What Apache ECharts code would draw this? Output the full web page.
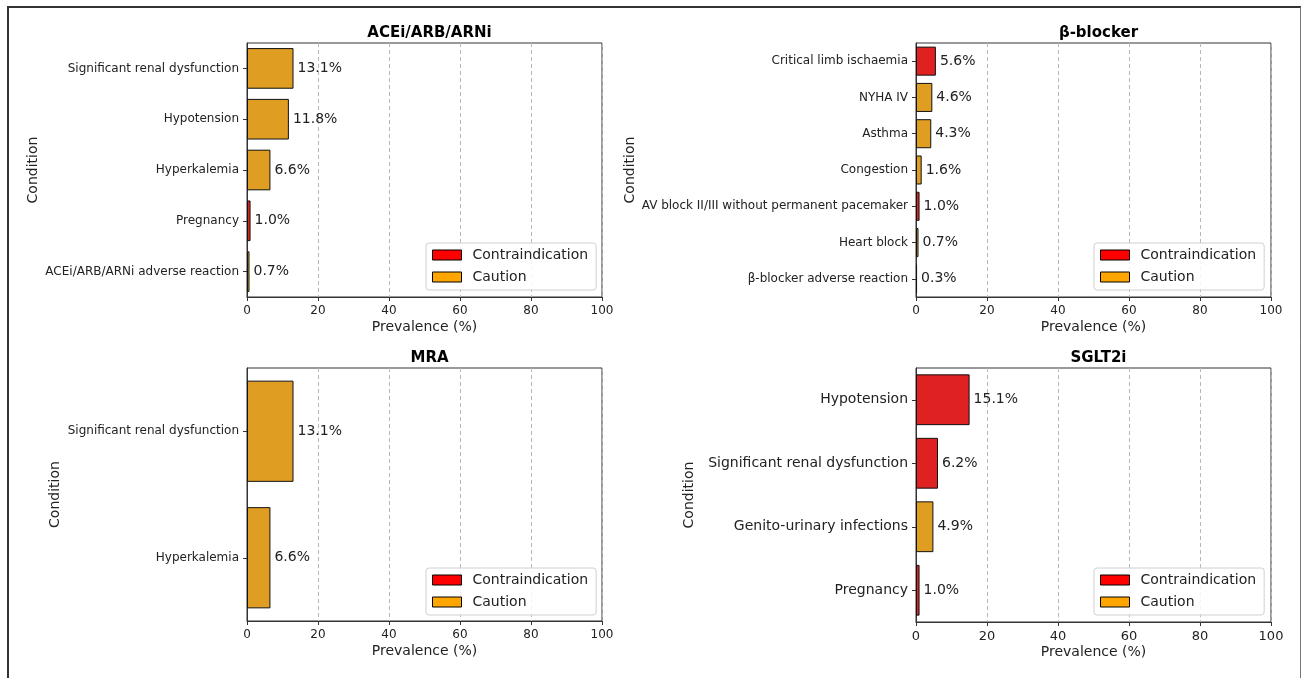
<!DOCTYPE html>
<html>
<head>
<meta charset="utf-8">
<script src="https://cdn.jsdelivr.net/npm/echarts@6/dist/echarts.min.js"></script>
<style>html,body{margin:0;padding:0;background:#fff}#c{width:1301px;height:678px}</style>
</head>
<body>
<div id="c"></div>
<script>
// ---- Data ----
const aceiTitle = 'ACEi/ARB/ARNi';
const aceiCategories = ['Significant renal dysfunction', 'Hypotension', 'Hyperkalemia', 'Pregnancy', 'ACEi/ARB/ARNi adverse reaction'];
const aceiValues = [13.1, 11.8, 6.6, 1.0, 0.7];
const aceiTypes = ['Caution', 'Caution', 'Caution', 'Contraindication', 'Caution'];

const bbTitle = 'β-blocker';
const bbCategories = ['Critical limb ischaemia', 'NYHA IV', 'Asthma', 'Congestion', 'AV block II/III without permanent pacemaker', 'Heart block', 'β-blocker adverse reaction'];
const bbValues = [5.6, 4.6, 4.3, 1.6, 1.0, 0.7, 0.3];
const bbTypes = ['Contraindication', 'Caution', 'Caution', 'Caution', 'Contraindication', 'Caution', 'Caution'];

const mraTitle = 'MRA';
const mraCategories = ['Significant renal dysfunction', 'Hyperkalemia'];
const mraValues = [13.1, 6.6];
const mraTypes = ['Caution', 'Caution'];

const sgltTitle = 'SGLT2i';
const sgltCategories = ['Hypotension', 'Significant renal dysfunction', 'Genito-urinary infections', 'Pregnancy'];
const sgltValues = [15.1, 6.2, 4.9, 1.0];
const sgltTypes = ['Contraindication', 'Contraindication', 'Caution', 'Contraindication'];

const xTicks = [0, 20, 40, 60, 80, 100];
const typeNames = ['Contraindication', 'Caution'];

// ---- Styling / layout ----
const FONT = 'DejaVu Sans';
const barColors = { 'Contraindication': '#DF2121', 'Caution': '#DF9D22' };
const legendColors = { 'Contraindication': '#FF0000', 'Caution': '#FFA500' };

const panels = [
  { title: aceiTitle, cats: aceiCategories, vals: aceiValues, types: aceiTypes,
    grid: { left: 247, top: 43, width: 355, height: 254 }, titleTop: 21, yNameGap: 207,
    catFont: 12, tickFont: 12, legend: { left: 426, top: 243 } },
  { title: bbTitle, cats: bbCategories, vals: bbValues, types: bbTypes,
    grid: { left: 916, top: 43, width: 355, height: 254 }, titleTop: 21, yNameGap: 277,
    catFont: 12, tickFont: 12, legend: { left: 1094, top: 243 } },
  { title: mraTitle, cats: mraCategories, vals: mraValues, types: mraTypes,
    grid: { left: 247, top: 368, width: 355, height: 253 }, titleTop: 346, yNameGap: 185,
    catFont: 12, tickFont: 12, legend: { left: 426, top: 568 } },
  { title: sgltTitle, cats: sgltCategories, vals: sgltValues, types: sgltTypes,
    grid: { left: 916, top: 368, width: 355, height: 254 }, titleTop: 346, yNameGap: 220,
    catFont: 14, tickFont: 13, legend: { left: 1094, top: 568 } }
];

const option = {
  animation: false,
  backgroundColor: '#fff',
  textStyle: { fontFamily: FONT },
  title: [], grid: [], xAxis: [], yAxis: [], series: [], legend: [],
  graphic: [
    { type: 'line', shape: { x1: 7, y1: 7, x2: 1301, y2: 7 }, style: { stroke: '#333', lineWidth: 2 } },
    { type: 'line', shape: { x1: 8, y1: 6, x2: 8, y2: 678 }, style: { stroke: '#333', lineWidth: 2 } },
    { type: 'line', shape: { x1: 1300.5, y1: 7, x2: 1300.5, y2: 678 }, style: { stroke: '#777', lineWidth: 1 } }
  ]
};

panels.forEach((p, i) => {
  const cx = p.grid.left + p.grid.width / 2;
  option.title.push({
    text: p.title, left: cx, top: p.titleTop, textAlign: 'center',
    textStyle: { fontFamily: FONT, fontSize: 15, fontWeight: 'bold', color: '#000' }
  });
  option.grid.push(Object.assign({ show: true, borderColor: '#333', borderWidth: 1, backgroundColor: 'transparent' }, p.grid));
  option.xAxis.push({
    gridIndex: i, type: 'value', min: 0, max: 100, interval: 20,
    name: 'Prevalence (%)', nameLocation: 'middle', nameGap: 23,
    nameTextStyle: { fontFamily: FONT, fontSize: 14, color: '#222' },
    axisLine: { show: true, lineStyle: { color: '#333', width: 1 } },
    axisTick: { show: true, length: 4, lineStyle: { color: '#333' } },
    axisLabel: { fontFamily: FONT, fontSize: p.tickFont, color: '#222', margin: 8,
      formatter: v => xTicks.includes(v) ? String(v) : '' },
    splitLine: { show: true, lineStyle: { color: '#b8b8b8', type: [4, 3], width: 1 } }
  });
  option.yAxis.push({
    gridIndex: i, type: 'category', data: p.cats, inverse: true,
    name: 'Condition', nameLocation: 'middle', nameGap: p.yNameGap,
    nameTextStyle: { fontFamily: FONT, fontSize: 14, color: '#222' },
    axisLine: { show: true, lineStyle: { color: '#333', width: 1 } },
    axisTick: { show: true, length: 4, alignWithLabel: true, lineStyle: { color: '#333' } },
    axisLabel: { fontFamily: FONT, fontSize: p.catFont, color: '#222', margin: 8 },
    splitLine: { show: false }
  });
  typeNames.forEach(t => {
    option.series.push({
      name: t, type: 'bar', xAxisIndex: i, yAxisIndex: i, stack: 'panel' + i,
      barCategoryGap: '20%',
      data: p.vals.map((v, j) => p.types[j] === t ? v : '-'),
      itemStyle: { color: barColors[t], borderColor: '#111', borderWidth: 1 },
      label: { show: true, position: 'right', distance: 4, fontFamily: FONT, fontSize: 14, color: '#222',
        formatter: d => Number(d.value).toFixed(1) + '%' }
    });
  });
  option.legend.push({
    left: p.legend.left, top: p.legend.top, orient: 'vertical',
    width: 169,
    padding: [5, 8, 6, 6], itemGap: 8, itemWidth: 29, itemHeight: 10,
    backgroundColor: 'rgba(255,255,255,0.85)', borderColor: '#d0d0d0', borderWidth: 1, borderRadius: 3,
    icon: 'rect', selectedMode: false,
    textStyle: { fontFamily: FONT, fontSize: 14, color: '#222', lineHeight: 14, padding: [0, 0, 0, 6] },
    data: typeNames.map(t => ({ name: t, itemStyle: { color: legendColors[t], borderColor: '#000', borderWidth: 1 } }))
  });
});

const chart = echarts.init(document.getElementById('c'), null, { renderer: 'canvas' });
chart.setOption(option);
</script>
</body>
</html>
